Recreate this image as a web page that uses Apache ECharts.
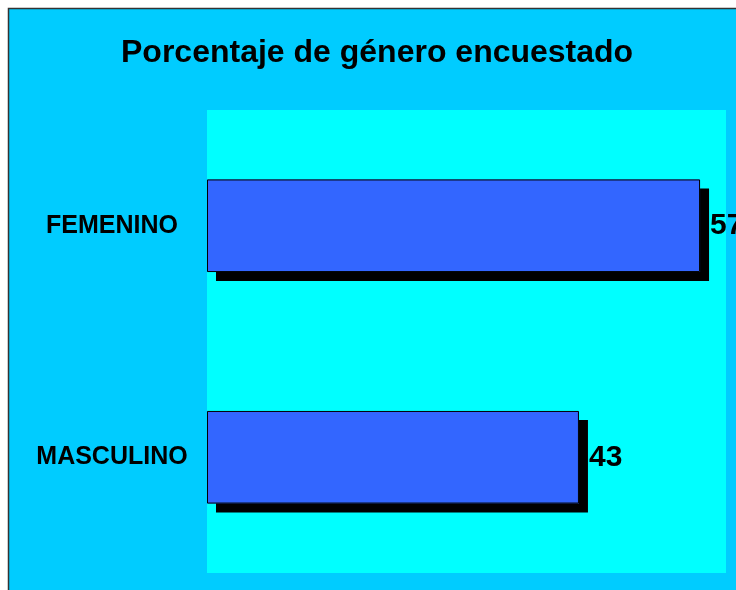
<!DOCTYPE html>
<html>
<head>
<meta charset="utf-8">
<script src="https://cdn.jsdelivr.net/npm/echarts@6/dist/echarts.min.js"></script>
<style>
html,body{margin:0;padding:0;background:#fff;}
#c{width:736px;height:590px;}
</style>
</head>
<body>
<div id="c"></div>
<script>
var categories = ['FEMENINO', 'MASCULINO'];
var values = [57, 43];
var titleText = 'Porcentaje de género encuestado';

var chart = echarts.init(document.getElementById('c'));
chart.setOption({
  backgroundColor: '#ffffff',
  animation: false,
  graphic: [{
    type: 'rect',
    z: -10,
    shape: { x: 8.5, y: 8.5, width: 740, height: 600 },
    style: { fill: '#00CCFF', stroke: '#333333', lineWidth: 1.5 }
  }],
  title: {
    text: titleText,
    left: 116,
    top: 32,
    textStyle: { fontFamily: 'Liberation Sans, Arial', fontWeight: 'bold', fontSize: 32, color: '#000' }
  },
  grid: {
    left: 207, right: 10, top: 110, bottom: 17,
    show: true, backgroundColor: '#00FFFF', borderWidth: 0
  },
  xAxis: {
    type: 'value', min: 0, max: 60, show: false
  },
  yAxis: {
    type: 'category',
    inverse: true,
    data: categories,
    axisLine: { show: false },
    axisTick: { show: false },
    splitLine: { show: false },
    axisLabel: {
      align: 'center',
      margin: 95,
      fontFamily: 'Liberation Sans, Arial',
      fontWeight: 'bold',
      fontSize: 25,
      color: '#000'
    }
  },
  series: [{
    type: 'bar',
    data: values,
    barWidth: '40%',
    silent: true,
    itemStyle: {
      color: '#3366FF',
      borderWidth: 0,
      shadowColor: '#000',
      shadowBlur: 0,
      shadowOffsetX: 9,
      shadowOffsetY: 9
    }
  }, {
    type: 'bar',
    data: values,
    barWidth: '40%',
    barGap: '-100%',
    itemStyle: {
      color: '#3366FF',
      borderColor: '#000',
      borderWidth: 1
    },
    label: {
      show: true,
      position: 'right',
      distance: 10,
      fontFamily: 'Liberation Sans, Arial',
      fontWeight: 'bold',
      fontSize: 30,
      color: '#000'
    }
  }]
});
</script>
</body>
</html>
